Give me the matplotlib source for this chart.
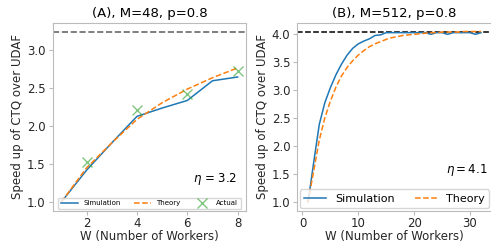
import numpy as np
import matplotlib
matplotlib.use("Agg")
import matplotlib.pyplot as plt

# panel A: M=48
w_a = [1, 2, 3, 4, 5, 6, 7, 8]
sim_a = [1.00, 1.42, 1.78, 2.13, 2.24, 2.34, 2.60, 2.65]
theory_a = [1.00, 1.45, 1.78, 2.09, 2.31, 2.49, 2.64, 2.77]
w_actual = [2, 4, 6, 8]
actual_a = [1.53, 2.21, 2.43, 2.73]
bound_a = 3.25

# panel B: M=512
w_b = list(range(1, 33))
sim_b = [1.00, 1.70, 2.38, 2.77, 3.04, 3.27, 3.46, 3.62, 3.74, 3.82,
         3.87, 3.91, 3.97, 3.98, 4.02, 4.02, 4.02, 4.02, 4.02, 4.02,
         4.02, 4.02, 3.99, 4.02, 4.02, 3.99, 4.02, 4.02, 4.02, 4.02,
         3.99, 4.02]
theory_b = [1.00, 1.55, 2.10, 2.50, 2.80, 3.05, 3.25, 3.40, 3.52, 3.62,
            3.70, 3.77, 3.82, 3.86, 3.90, 3.93, 3.95, 3.97, 3.98, 3.99,
            4.00, 4.01, 4.02, 4.02, 4.03, 4.03, 4.03, 4.03, 4.04, 4.04,
            4.04, 4.04]
bound_b = 4.04

fs = 8.5
grey = '#bbbbbb'

fig = plt.figure(figsize=(4.91, 2.42), dpi=100)
ax1 = fig.add_axes([0.107, 0.13, 0.395, 0.775])
ax2 = fig.add_axes([0.6055, 0.13, 0.3962, 0.775])

for ax in (ax1, ax2):
    for s in ax.spines.values():
        s.set_color(grey)
    ax.tick_params(labelsize=fs, color=grey, labelcolor='#262626', length=3, pad=2)
    ax.set_xlabel('W (Number of Workers)', fontsize=fs, color='#262626', labelpad=0)
    ax.set_ylabel('Speed up of CTQ over UDAF', fontsize=fs, color='#262626', labelpad=2)

# (A)
ax1.axhline(bound_a, color='dimgray', linestyle='--', lw=1.2)
ax1.plot(w_a, sim_a, color='tab:blue', lw=1.1, label='Simulation')
ax1.plot(w_a, theory_a, color='tab:orange', lw=1.1, linestyle='--', label='Theory')
ax1.plot(w_actual, actual_a, 'x', color='tab:green', alpha=0.6, markersize=7,
         label='Actual')
ax1.set_ylim(0.8875, 3.3625)
ax1.set_xticks([2, 4, 6, 8])
ax1.set_yticks([1.0, 1.5, 2.0, 2.5, 3.0])
ax1.set_title('(A), M=48, p=0.8', fontsize=9.5, pad=4)
ax1.text(0.95, 0.17, r'$\eta$ = 3.2', transform=ax1.transAxes, ha='right',
         va='center', fontsize=fs)
ax1.legend(loc='lower center', ncol=3, fontsize=5, borderaxespad=0.2,
           columnspacing=1.8, handlelength=2.5)

# (B)
ax2.axhline(bound_b, color='k', linestyle='--', lw=1.1)
ax2.plot(w_b, sim_b, color='tab:blue', lw=1.1, label='Simulation')
ax2.plot(w_b, theory_b, color='tab:orange', lw=1.1, linestyle='--', label='Theory')
ax2.set_xlim(-0.93, 33.93)
ax2.set_ylim(0.848, 4.192)
ax2.set_xticks([0, 10, 20, 30])
ax2.set_yticks([1.0, 1.5, 2.0, 2.5, 3.0, 3.5, 4.0])
ax2.set_title('(B), M=512, p=0.8', fontsize=9.5, pad=4)
ax2.text(0.975, 0.215, r'$\eta = 4.1$', transform=ax2.transAxes, ha='right',
         va='center', fontsize=fs)
ax2.legend(loc='lower left', ncol=2, fontsize=8, borderaxespad=0.2,
           columnspacing=1.8, handlelength=2.0)

fig.savefig('out.png', dpi=100)
